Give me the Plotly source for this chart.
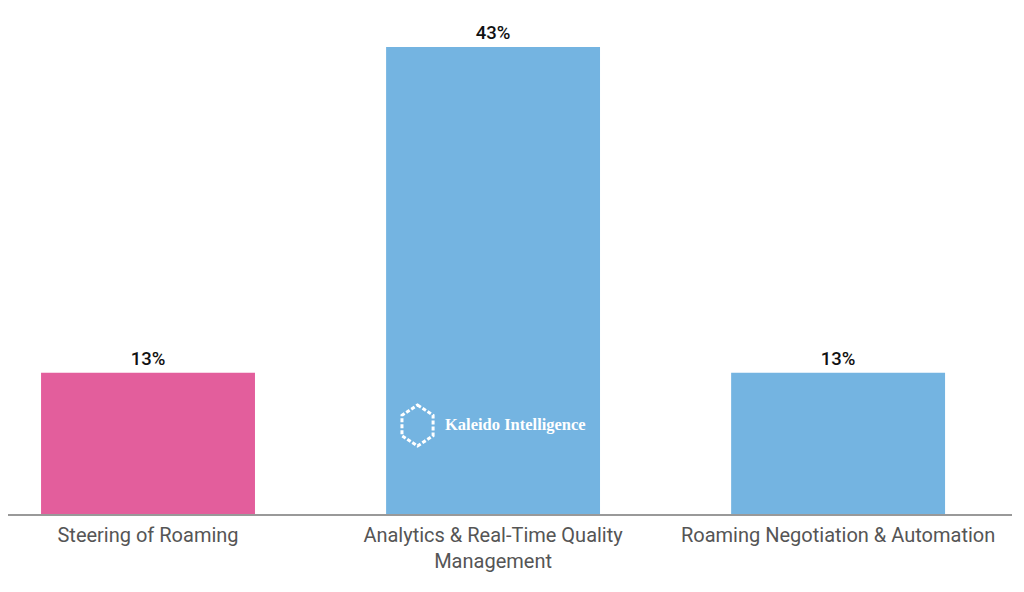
import plotly.graph_objects as go

# chart data
categories = ["Steering of Roaming",
              "Analytics & Real-Time Quality<br>Management",
              "Roaming Negotiation & Automation"]
shares = [13, 43, 13]
bar_colors = ["#E35E9C", "#74B4E1", "#74B4E1"]

fig = go.Figure(go.Bar(
    x=categories,
    y=shares,
    marker=dict(color=bar_colors, line=dict(width=0)),
    texttemplate="%{y}%",
    textposition="outside",
    textfont=dict(family="Roboto", size=18.5, color="#111111", weight=500),
    cliponaxis=False,
    hoverinfo="skip",
))

# watermark: dashed hexagon + name
cx, cy, hw, hh = 0.4079, 0.1749, 0.0155, 0.0405
hexpath = (f"M {cx},{cy + hh} L {cx + hw},{cy + hh/2} L {cx + hw},{cy - hh/2} "
           f"L {cx},{cy - hh} L {cx - hw},{cy - hh/2} L {cx - hw},{cy + hh/2} Z")
fig.add_shape(type="path", path=hexpath, xref="paper", yref="paper",
              line=dict(color="white", width=3, dash="4px,2px"))
fig.add_annotation(x=0.4333, y=0.1759, xref="paper", yref="paper",
                   text="<b>Kaleido Intelligence</b>", showarrow=False,
                   xanchor="left", yanchor="middle",
                   font=dict(family="Liberation Serif", size=16.5, color="white"))

fig.update_layout(
    width=1016, height=584,
    margin=dict(l=0, r=12, t=0, b=78),
    paper_bgcolor="white", plot_bgcolor="white",
    bargap=0.38,
    showlegend=False,
    font=dict(family="Roboto"),
    xaxis=dict(range=[-0.4058, 2.504], showline=True, linecolor="#999999",
               linewidth=1.5, ticks="", showgrid=False, ticklabelstandoff=2,
               tickfont=dict(family="Roboto", size=20, color="#555555")),
    yaxis=dict(range=[0, 46.6], visible=False, showgrid=False, zeroline=False),
)

fig.write_html("out.html")
